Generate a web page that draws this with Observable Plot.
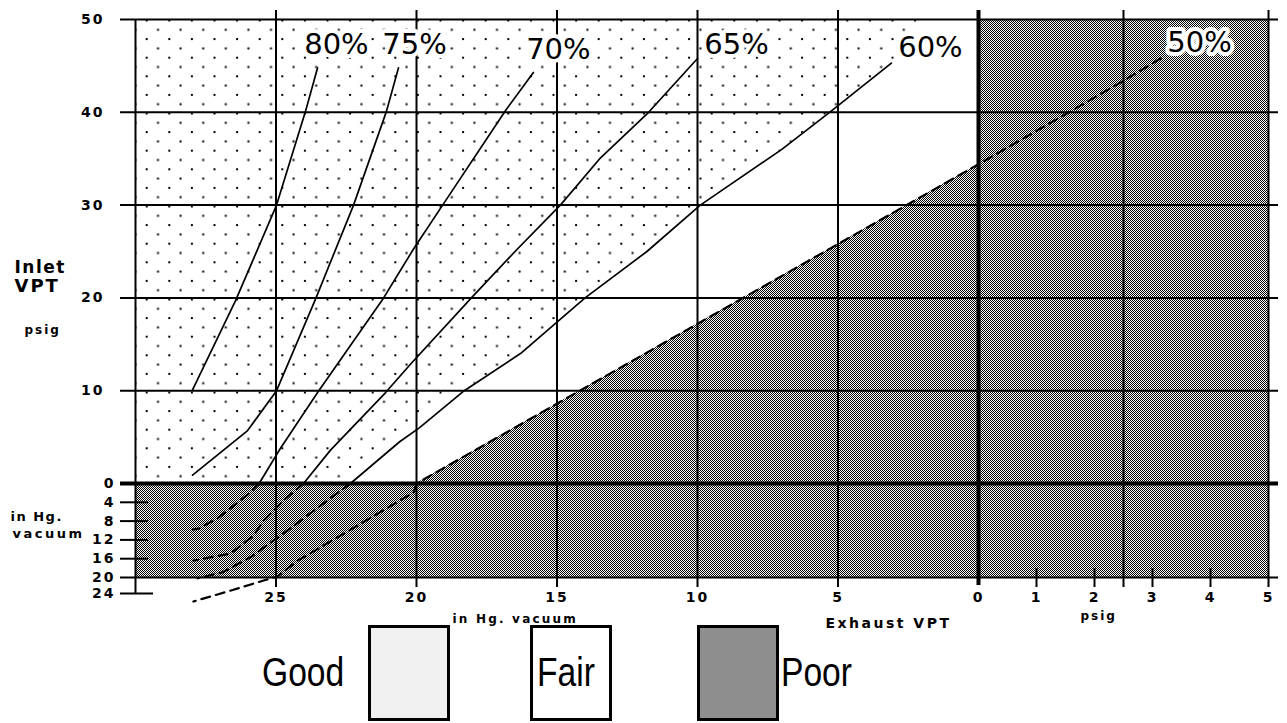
<!DOCTYPE html>
<html>
<head>
<meta charset="utf-8">
<script src="https://cdn.jsdelivr.net/npm/d3@7"></script>
<script src="https://cdn.jsdelivr.net/npm/@observablehq/plot@0.6"></script>
<style>
  body { margin: 0; background: #fff; }
  #wrap { position: relative; width: 1287px; height: 723px; overflow: hidden; background: #fff; }
  #legend { position: relative; width: 1287px; height: 100px; font-family: "Liberation Sans", Arial, sans-serif; }
  #legend .box { position: absolute; top: 2px; width: 82px; height: 96px; box-sizing: border-box; border: 3px solid #000; }
  #legend .lbl { position: absolute; top: 29px; font-size: 41px; line-height: 41px; transform: scaleX(0.82); transform-origin: left top; white-space: nowrap; color: #000; }
</style>
</head>
<body>
<svg width="0" height="0" style="position:absolute">
  <defs>
    <pattern id="dots" patternUnits="userSpaceOnUse" x="145.7" y="19.5" width="22.6" height="18.6">
      <rect width="22.6" height="18.6" fill="#fff"></rect>
      <rect x="0" y="0" width="2" height="2" fill="#000"></rect>
      <rect x="11.3" y="9.3" width="2" height="2" fill="#000"></rect>
    </pattern>
    <pattern id="poor" patternUnits="userSpaceOnUse" x="0" y="0" width="2" height="2">
      <rect width="2" height="2" fill="#fff"></rect>
      <rect x="0" y="0" width="1" height="1" fill="#000"></rect>
      <rect x="1" y="1" width="1" height="1" fill="#000"></rect>
    </pattern>
  </defs>
</svg>
<div id="wrap">
  <div id="chart"></div>
  <div id="legend">
    <span class="lbl" style="left:262px">Good</span>
    <div class="box" style="left:368px;background:#f0f0f0"></div>
    <div class="box" style="left:530px;background:#ffffff"></div>
    <span class="lbl" style="left:537px">Fair</span>
    <div class="box" style="left:697px;background:#8e8e8e"></div>
    <span class="lbl" style="left:781px">Poor</span>
  </div>
</div>
<script>
// ---- tick labels ----
const exhaustVacTicks = [25, 20, 15, 10, 5, 0];   // in Hg vacuum (exhaust)
const exhaustPsigTicks = [1, 2, 3, 4, 5];         // psig (exhaust)
const exhaustPsigGrid = [2.5, 5];                 // extra vertical lines on psig side
const inletPsigTicks = [0, 10, 20, 30, 40, 50];   // psig (inlet)
const inletVacTicks = [4, 8, 12, 16, 20, 24];     // in Hg vacuum (inlet)

// ---- efficiency curves: [exhaust (neg = in Hg vacuum, pos = psig), inlet (pos = psig, neg = in Hg vacuum)] ----
const eff80 = [[-27.97,10.1],[-26.44,19.7],[-24.98,30],[-23.95,40.1],[-23.52,44.8]];
const eff75 = [[-27.97,0.9],[-26.01,5.7],[-24.98,10],[-23.59,19.9],[-22.24,30],[-21.07,40.1],[-20.64,44.8]];
const eff70 = [[-25.6,0],[-24.84,3.8],[-23.52,9.8],[-21.17,20],[-20.1,25.3],[-19.07,30],[-16.83,40.2],[-15.84,44.3]];
const eff65 = [[-24.02,0],[-23.06,3.6],[-21.1,9.8],[-20.2,12.9],[-18.08,19.9],[-16.4,25.3],[-14.88,30],[-13.45,35.1],[-11.74,40],[-10,45.8]];
const eff60 = [[-22.35,0],[-20.6,4.5],[-19.9,6],[-18.3,10],[-16.3,14],[-14,20],[-11.8,25],[-9.9,30],[-7,36],[-5.3,40],[-3.1,45.3]];
const eff50 = [[3.14,45.8],[2.5,43.4],[1.53,39.9],[0,34.4],[-20,0]];

// dashed continuations into inlet vacuum
const ext70 = [[-25.6,0],[-25.91,-1.9],[-27.08,-7.4],[-27.76,-9.6],[-27.97,-9.8]];
const ext65 = [[-24.02,0],[-24.66,-3.2],[-25.44,-7.9],[-25.8,-11.1],[-26.62,-14.9],[-27.58,-16],[-27.94,-16.4]];
const ext60 = [[-22.35,0],[-23.17,-3.6],[-24.59,-10],[-25.91,-15.7],[-26.44,-17.4],[-26.9,-18.9],[-27.79,-20.2]];
const ext50 = [[-20,0],[-20.1,-1.9],[-23.42,-13.6],[-24.23,-16.4],[-24.95,-19.8],[-25.44,-20.75],[-26.6,-23.25],[-27.94,-26]];

// ---- rating regions ----
const goodEdge = [...eff60, [-1.9, 50]];                       // Good: left of the 60% line
const poorEdge = [[-30,0],[-20,0],[0,34.4],[0,50],[5,50]];     // Poor: below the 50% line / vacuum / pressurised exhaust

// ---- curve labels ----
const curveLabels = [
  {t: "80%", x: -22.85, y: 47.3},
  {t: "75%", x: -20.07, y: 47.3},
  {t: "70%", x: -14.95, y: 46.7},
  {t: "65%", x: -8.61, y: 47.3},
  {t: "60%", x: -1.71, y: 47.0},
  {t: "50%", x: 3.81, y: 47.5}
];

const pts = a => a.map(([x, y]) => ({x, y}));
const lineW = 1.7;
const dash = "9,6";
const small = {fontFamily: "DejaVu Sans", fontWeight: "bold", fill: "black"};

const chart = Plot.plot({
  width: 1287,
  height: 623,
  marginLeft: 135, marginRight: 19, marginTop: 19, marginBottom: 46,
  x: {type: "linear", domain: [-30, 0, 5], range: [135, 978, 1268], axis: null},
  y: {type: "linear", domain: [-24, -20, 0, 50], range: [593, 577, 483, 19], axis: null},
  style: {fontFamily: "DejaVu Sans", background: "white", color: "black", overflow: "visible"},
  marks: [
    // regions
    Plot.areaX(pts(goodEdge), {x1: -30, x2: "x", y: "y", fill: "url(#dots)"}),
    Plot.areaY(pts(poorEdge), {x: "x", y1: -20, y2: "y", fill: "url(#poor)"}),

    // vertical grid
    Plot.ruleX(exhaustVacTicks.filter(v => v > 0).map(v => -v).concat(exhaustPsigGrid),
      {x: d => d, y1: 50, y2: -20, insetTop: -9, insetBottom: -10, stroke: "black", strokeWidth: 2}),
    Plot.ruleX([0], {x: d => d, y1: 50, y2: -20, insetTop: -9, insetBottom: -8, stroke: "black", strokeWidth: 4}),
    Plot.ruleX([-30], {x: d => d, y1: 50, y2: -24, stroke: "black", strokeWidth: 2}),
    Plot.ruleX(exhaustPsigTicks.filter(v => v < 5), {x: d => d, y1: -20, y2: -20, insetTop: -9, insetBottom: -10, stroke: "black", strokeWidth: 2}),

    // horizontal grid
    Plot.ruleY(inletPsigTicks.filter(v => v > 0), {y: d => d, x1: -30, x2: 5, insetLeft: -15, insetRight: -10, stroke: "black", strokeWidth: 2}),
    Plot.ruleY([0], {y: d => d, x1: -30, x2: 5, insetLeft: -15, insetRight: -10, stroke: "black", strokeWidth: 4}),
    Plot.ruleY([-20], {y: d => d, x1: -30, x2: 5, insetLeft: -15, insetRight: -10, stroke: "black", strokeWidth: 2}),
    Plot.ruleY(inletVacTicks.filter(v => v < 20).map(v => -v), {y: d => d, x1: -30, x2: -30, insetLeft: -15, insetRight: -13, stroke: "black", strokeWidth: 2}),
    Plot.ruleY([-24], {y: d => d, x1: -30, x2: -30, insetLeft: -15, insetRight: -18, stroke: "black", strokeWidth: 2}),

    // efficiency curves
    ...[eff80, eff75, eff70, eff65, eff60].map(c =>
      Plot.line(pts(c), {x: "x", y: "y", stroke: "black", strokeWidth: lineW})),
    Plot.line(pts(eff50), {x: "x", y: "y", stroke: "black", strokeWidth: 2.2, strokeDasharray: dash}),
    ...[ext70, ext65, ext60, ext50].map(c =>
      Plot.line(pts(c), {x: "x", y: "y", stroke: "black", strokeWidth: 2.2, strokeDasharray: dash})),

    // curve labels
    Plot.text(curveLabels, {x: "x", y: "y", text: "t", fontSize: 29, fontFamily: "DejaVu Sans",
      fill: "black", stroke: "white", strokeWidth: 8, paintOrder: "stroke"}),

    // y tick labels
    Plot.text(inletPsigTicks.filter(v => v > 0), {y: d => d, text: d => String(d), frameAnchor: "left", dx: -31, textAnchor: "end", fontSize: 14, ...small}),
    Plot.text([0], {y: d => d, text: d => String(d), frameAnchor: "left", dx: -20, textAnchor: "end", fontSize: 14, ...small}),
    Plot.text(inletVacTicks, {y: d => -d, text: d => String(d), frameAnchor: "left", dx: -20, textAnchor: "end", fontSize: 14, ...small}),

    // x tick labels
    Plot.text(exhaustVacTicks, {x: d => -d, text: d => String(d), frameAnchor: "bottom", dy: 24, fontSize: 14, ...small}),
    Plot.text(exhaustPsigTicks, {x: d => d, text: d => String(d), frameAnchor: "bottom", dy: 24, fontSize: 14, ...small}),

    // axis titles
    Plot.text(["Inlet"], {text: d => d, frameAnchor: "top-left", dx: -121, dy: 241, textAnchor: "start", fontSize: 17, ...small}),
    Plot.text(["VPT"], {text: d => d, frameAnchor: "top-left", dx: -121, dy: 260, textAnchor: "start", fontSize: 18, ...small}),
    Plot.text(["psig"], {text: d => d, frameAnchor: "top-left", dx: -111, dy: 306, textAnchor: "start", fontSize: 12, ...small}),
    Plot.text(["in Hg."], {text: d => d, frameAnchor: "top-left", dx: -125, dy: 492, textAnchor: "start", fontSize: 13, ...small}),
    Plot.text(["vacuum"], {text: d => d, frameAnchor: "top-left", dx: -123, dy: 509, textAnchor: "start", fontSize: 13, ...small}),
    Plot.text(["in Hg. vacuum"], {text: d => d, frameAnchor: "top-left", dx: 317, dy: 595, textAnchor: "start", fontSize: 12, ...small}),
    Plot.text(["Exhaust VPT"], {text: d => d, frameAnchor: "top-left", dx: 690, dy: 599, textAnchor: "start", fontSize: 14, ...small}),
    Plot.text(["psig "], {text: d => d, frameAnchor: "top-left", dx: 945, dy: 592, textAnchor: "start", fontSize: 12, ...small})
  ]
});

// letter spacing to imitate the wide bitmap font
const spacing = {"Inlet": 1.5, "VPT": 2, "psig": 2, "psig ": 2, "in Hg.": 1.5, "vacuum": 2.5, "in Hg. vacuum": 2.2, "Exhaust VPT": 2.5};
d3.select(chart).selectAll("text").each(function () {
  const t = this.textContent;
  if (t.endsWith("%")) return;
  const s = spacing[t] !== undefined ? spacing[t] : 2;
  this.style.letterSpacing = s + "px";
});

document.getElementById("chart").appendChild(chart);
</script>
</body>
</html>
